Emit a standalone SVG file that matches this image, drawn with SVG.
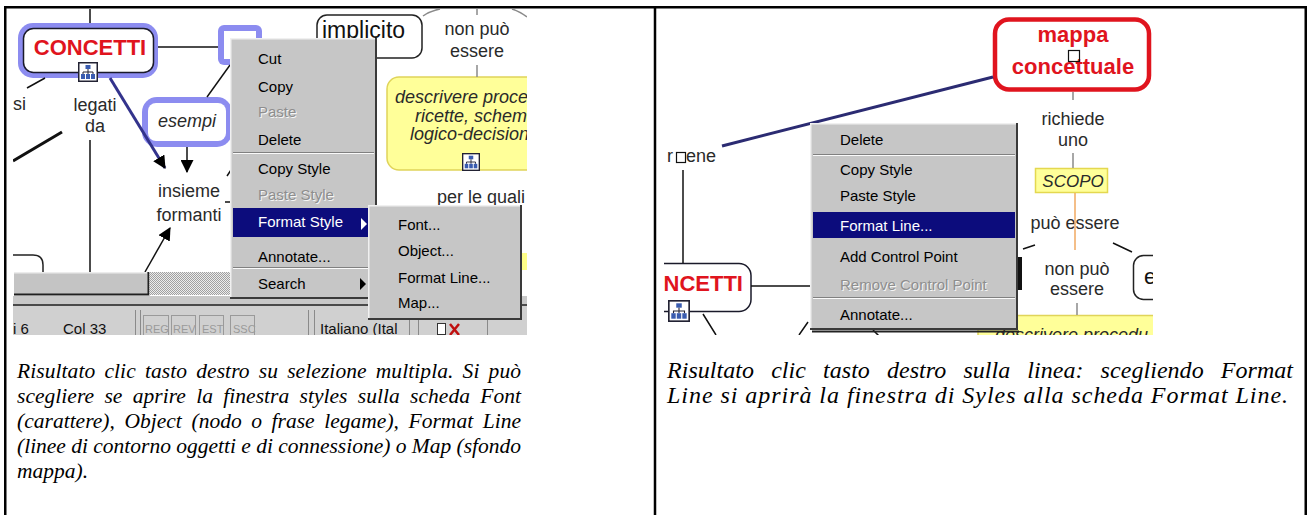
<svg xmlns="http://www.w3.org/2000/svg" width="1310" height="515" viewBox="0 0 1310 515">
<defs>
<style>
text{font-family:"Liberation Sans",Arial,sans-serif}
.ui{font-size:15px;fill:#000}
.uw{font-size:15px;fill:#fff}
.dis{font-size:15px;fill:#8e8e8e}
.dsh{font-size:15px;fill:#f6f6f6}
.lbl{font-size:18px;fill:#2a2a2a}
.it{font-style:italic}
.red{font-size:22px;font-weight:bold;fill:#e0141e}
.cap{font-family:"Liberation Serif","Times New Roman",serif;font-style:italic;font-size:21.5px;fill:#000}
.capr{font-family:"Liberation Serif","Times New Roman",serif;font-style:italic;font-size:24px;fill:#000}
.st{font-size:15px;fill:#111}
.sd{font-size:11px;fill:#9a9a9a}
.menu{fill:#c6c6c6}
.sel{fill:#0c0c7c}
.hl{fill:#8c8cf0}
.box{fill:#fff;stroke:#1a1a2a;stroke-width:1.5}
.yel{fill:#ffff99;stroke:#e0d45a;stroke-width:1.5}
.ln{stroke:#111;stroke-width:1.5;fill:none}
.gl{stroke:#8a8a8a;stroke-width:1.5;fill:none}
.lt{stroke:#f0f0f0;stroke-width:1.5;fill:none}
.dk{stroke:#3a3a3a;stroke-width:2;fill:none}
.s1{stroke:#808080;stroke-width:1}
.s2{stroke:#fafafa;stroke-width:1}
.bd{stroke:#000;stroke-width:2.5;fill:none}
</style>
<marker id="ah" viewBox="0 0 12 12" refX="11" refY="6" markerWidth="13" markerHeight="13" markerUnits="userSpaceOnUse" orient="auto"><path d="M0,0 L12,6 L0,12 z" fill="#000"/></marker>
<symbol id="ico" viewBox="0 0 20 20">
<rect x="0.75" y="0.75" width="18.5" height="18.5" fill="#fff" stroke="#223" stroke-width="1.5"/>
<rect x="7.5" y="3" width="5" height="4" fill="#3a5cb0"/>
<path d="M10,7V12M5,12V10H15V12" stroke="#223" stroke-width="1" fill="none"/>
<rect x="3" y="12" width="4" height="5" fill="#3a5cb0"/>
<rect x="8" y="12" width="4" height="5" fill="#3a5cb0"/>
<rect x="13" y="12" width="4" height="5" fill="#3a5cb0"/>
</symbol>
<pattern id="chk" width="2" height="2" patternUnits="userSpaceOnUse"><rect width="2" height="2" fill="#ececec"/><rect width="1" height="1" fill="#a0a0a0"/><rect x="1" y="1" width="1" height="1" fill="#a0a0a0"/></pattern>
<clipPath id="cl"><rect x="13" y="9" width="514" height="326"/></clipPath>
<clipPath id="cr"><rect x="664" y="9" width="489" height="326"/></clipPath>
</defs>

<rect width="1310" height="515" fill="#fff"/>

<g id="left-shot" clip-path="url(#cl)">
<rect x="13" y="9" width="514" height="326" fill="#fff"/>
<g id="L-concetti">
<rect class="hl" x="18" y="23" width="140" height="55" rx="15"/>
<rect class="box" x="23.5" y="28.5" width="130" height="44" rx="10"/>
<text class="red" x="90" y="55" text-anchor="middle">CONCETTI</text>
<use href="#ico" x="78" y="62" width="20" height="20"/>
</g>
<g id="L-selected">
<rect class="hl" x="218" y="25" width="44" height="40" rx="6"/>
<rect x="224" y="31" width="32" height="28" fill="#fff"/>
</g>
<g id="L-esempi">
<rect class="hl" x="142" y="97" width="90" height="50" rx="15"/>
<rect x="148" y="103" width="78" height="38" rx="8" fill="#fff"/>
<text class="lbl it" x="187" y="127" text-anchor="middle">esempi</text>
</g>
<g id="L-implicito">
<rect x="317" y="15" width="105" height="43" rx="10" fill="#fff" stroke="#222" stroke-width="1.5"/>
<text x="322" y="38" style="font-size:23px;fill:#111">implicito</text>
</g>
<g id="L-procedure">
<rect class="yel" x="387" y="77" width="170" height="93" rx="12"/>
<text class="lbl it" x="395" y="103">descrivere proce</text>
<text class="lbl it" x="415" y="122">ricette, schem</text>
<text class="lbl it" x="410" y="140">logico-decision</text>
<use href="#ico" x="462" y="153" width="18" height="18"/>
</g>
<g id="L-bottom-node">
<path d="M10,255H33Q43,255 43,265V272" fill="none" stroke="#222" stroke-width="1.5"/>
</g>
<g id="L-yellow-edge"><rect x="522" y="253" width="6" height="17" fill="#ffff88"/></g>
<g id="L-labels">
<text class="lbl" x="13" y="110">si</text>
<text class="lbl" x="95" y="111" text-anchor="middle">legati</text>
<text class="lbl" x="95" y="132" text-anchor="middle">da</text>
<text class="lbl" x="189" y="197" text-anchor="middle">insieme</text>
<text class="lbl" x="189" y="221" text-anchor="middle">formanti</text>
<text class="lbl" x="477" y="35" text-anchor="middle">non può</text>
<text class="lbl" x="477" y="57" text-anchor="middle">essere</text>
<text class="lbl" x="437" y="203">per le quali</text>
</g>
<g id="L-connectors">
<path class="ln" d="M90,9V23"/>
<path class="ln" d="M158,47H218"/>
<path class="ln" d="M27,88L45,78"/>
<path class="ln" d="M90,140V272"/>
<path d="M13,161L62,132" stroke="#111" stroke-width="3"/>
<path d="M110,78L165,168" stroke="#33338c" stroke-width="3" marker-end="url(#ah)"/>
<path class="ln" d="M187,147V172" marker-end="url(#ah)"/>
<path class="ln" d="M207,97L230,65"/>
<path class="ln" d="M145,272L170,228" marker-end="url(#ah)"/>
<path class="gl" d="M477,9V15M477,65V77M423,16Q430,11 440,9M512,9Q521,12 527,17"/>
<path class="ln" d="M225,202H231M227,176L231,170"/>
</g>
<g id="L-statusbar">
<rect x="14" y="272" width="134" height="23" fill="#c4c4c4"/>
<path d="M14,272.75H147" stroke="#ececec" stroke-width="1.5"/>
<path d="M14,294.5H148.5V272" stroke="#202020" stroke-width="2" fill="none"/>
<rect x="149.5" y="272" width="83" height="23" fill="url(#chk)"/>
<rect x="13" y="296" width="514" height="8" fill="#c8c8c8"/>
<path d="M13,305H527" stroke="#4a4a4a" stroke-width="2"/>
<rect x="13" y="306" width="514" height="29" fill="#d0d0d0"/>
<path d="M135.5,310V335M140.5,310V335M308.5,310V335M314.5,310V335M409.5,310V335M418.5,310V335M487.5,310V335" stroke="#8a8a8a" stroke-width="1"/>
<g fill="none" stroke="#9a9a9a" stroke-width="1">
<rect x="143.5" y="315.5" width="25" height="22"/>
<rect x="171.5" y="315.5" width="24" height="22"/>
<rect x="199.5" y="315.5" width="24" height="22"/>
<rect x="230.5" y="315.5" width="24" height="22"/>
</g>
<text class="sd" x="145" y="333">REG</text>
<text class="sd" x="173" y="333">REV</text>
<text class="sd" x="202" y="333">EST</text>
<text class="sd" x="233" y="333">SSC</text>
<text class="st" x="13" y="334">i 6</text>
<text class="st" x="63" y="334">Col 33</text>
<text class="st" x="320" y="334">Italiano (Ital</text>
<rect x="437.5" y="323.5" width="8" height="11" fill="#fff" stroke="#333" stroke-width="1"/>
<path d="M450,324L459,335M459,324L450,335" stroke="#c01010" stroke-width="2.5"/>
</g>
<g id="L-menu">
<rect class="menu" x="230" y="38" width="147" height="261"/>
<path class="lt" d="M230.75,298V38.75H376"/>
<path class="dk" d="M376,38V298H230"/>
<text class="ui" x="258" y="64">Cut</text>
<text class="ui" x="258" y="92">Copy</text>
<text class="dsh" x="259" y="118">Paste</text>
<text class="dis" x="258" y="117">Paste</text>
<text class="ui" x="258" y="145">Delete</text>
<path class="s1" d="M233,152.5H374"/><path class="s2" d="M233,153.5H374"/>
<text class="ui" x="258" y="174">Copy Style</text>
<text class="dsh" x="259" y="201">Paste Style</text>
<text class="dis" x="258" y="200">Paste Style</text>
<rect class="sel" x="233" y="208" width="141" height="29"/>
<text class="uw" x="258" y="227">Format Style</text>
<path d="M361,218L367,224L361,230z" fill="#fff"/>
<text class="ui" x="258" y="262">Annotate...</text>
<path class="s1" d="M233,267.5H374"/><path class="s2" d="M233,268.5H374"/>
<text class="ui" x="258" y="289">Search</text>
<path d="M360,278L366,284L360,290z" fill="#000"/>
</g>
<g id="L-submenu">
<rect class="menu" x="368" y="205" width="154" height="115"/>
<path class="lt" d="M368.75,319V205.75H521"/>
<path class="dk" d="M521,205V319H368"/>
<text class="ui" x="398" y="230">Font...</text>
<text class="ui" x="398" y="256">Object...</text>
<text class="ui" x="398" y="283">Format Line...</text>
<text class="ui" x="398" y="308">Map...</text>
</g>
</g>

<g id="right-shot" clip-path="url(#cr)">
<rect x="664" y="9" width="489" height="326" fill="#fff"/>
<g id="R-concetti">
<rect class="box" x="600" y="263.5" width="151" height="48" rx="12"/>
<text class="red" x="743" y="291" text-anchor="end">NCETTI</text>
<use href="#ico" x="668" y="300" width="22" height="22"/>
</g>
<g id="R-mappa">
<rect x="995" y="19.5" width="154" height="70" rx="14" fill="#fff" stroke="#e0141e" stroke-width="4.5"/>
<text class="red" x="1073" y="42" text-anchor="middle">mappa</text>
<text class="red" x="1073" y="74" text-anchor="middle">concettuale</text>
<rect x="1068.5" y="50.5" width="11" height="11" fill="none" stroke="#111" stroke-width="1.2"/>
</g>
<g id="R-scopo">
<rect x="1035.5" y="168.5" width="72" height="24" fill="#ffff99" stroke="#e4d850" stroke-width="1.5"/>
<text class="lbl it" x="1073" y="187" text-anchor="middle" style="font-size:17px">SCOPO</text>
</g>
<g id="R-e-node">
<rect x="1133.5" y="255.5" width="60" height="44" rx="10" fill="#fff" stroke="#222" stroke-width="1.5"/>
<text x="1144" y="284" style="font-size:22px;fill:#111">e</text>
</g>
<g id="R-hidden-node"><rect x="1018" y="257" width="4" height="33" fill="#111"/></g>
<g id="R-procedure">
<rect class="yel" x="978" y="315.5" width="200" height="40" rx="4"/>
<text class="lbl it" x="995" y="341">descrivere procedu</text>
</g>
<g id="R-labels">
<text class="lbl" x="667" y="162">r</text>
<rect x="676.5" y="152.5" width="9" height="10" fill="#fff" stroke="#111" stroke-width="1.2"/>
<text class="lbl" x="686" y="162">ene</text>
<text class="lbl" x="1073" y="125" text-anchor="middle">richiede</text>
<text class="lbl" x="1073" y="146" text-anchor="middle">uno</text>
<text class="lbl" x="1075" y="229" text-anchor="middle">può essere</text>
<text class="lbl" x="1077" y="275" text-anchor="middle">non può</text>
<text class="lbl" x="1077" y="295" text-anchor="middle">essere</text>
</g>
<g id="R-connectors">
<path d="M722,146L993,77" stroke="#2b2b72" stroke-width="3"/>
<path class="ln" d="M683,170V263"/>
<path class="ln" d="M751,286H810"/>
<path class="ln" d="M703,314L716,335M808,322L799,335M873,330L879,336"/>
<path class="gl" d="M1073,92V100M1073,153V168"/>
<path d="M1075,193V250" stroke="#f0a860" stroke-width="1.5"/>
<path class="ln" d="M1023,249L1035,245M1113,243L1132,252"/>
<path class="gl" d="M1077,303V315"/>
</g>
<g id="R-menu">
<rect class="menu" x="810" y="123" width="208" height="207"/>
<path class="lt" d="M810.75,329V123.75H1017"/>
<path class="dk" d="M1017,123V329H810"/>
<path d="M812,331.5H1019" stroke="#222" stroke-width="2"/>
<text class="ui" x="840" y="145">Delete</text>
<path class="s1" d="M813,154.5H1015"/><path class="s2" d="M813,155.5H1015"/>
<text class="ui" x="840" y="175">Copy Style</text>
<text class="ui" x="840" y="201">Paste Style</text>
<rect class="sel" x="813" y="212" width="202" height="26"/>
<text class="uw" x="840" y="231">Format Line...</text>
<text class="ui" x="840" y="262">Add Control Point</text>
<text class="dsh" x="841" y="291">Remove Control Point</text>
<text class="dis" x="840" y="290">Remove Control Point</text>
<path class="s1" d="M813,297.5H1015"/><path class="s2" d="M813,298.5H1015"/>
<text class="ui" x="840" y="320">Annotate...</text>
</g>
</g>

<g id="captions">
<text class="cap" x="17" y="378" word-spacing="3.7" textLength="504" lengthAdjust="spacing">Risultato clic tasto destro su selezione multipla. Si può</text>
<text class="cap" x="17" y="403" word-spacing="4.9" textLength="504" lengthAdjust="spacing">scegliere se aprire la finestra styles sulla scheda Font</text>
<text class="cap" x="17" y="428" word-spacing="4.2" textLength="504" lengthAdjust="spacing">(carattere), Object (nodo o frase legame), Format Line</text>
<text class="cap" x="17" y="453" textLength="504" lengthAdjust="spacing">(linee di contorno oggetti e di connessione) o Map (sfondo</text>
<text class="cap" x="17" y="478">mappa).</text>
<text class="capr" x="667" y="378" word-spacing="11" textLength="626" lengthAdjust="spacing">Risultato clic tasto destro sulla linea: scegliendo Format</text>
<text class="capr" x="667" y="403" textLength="621" lengthAdjust="spacing">Line si aprirà la finestra di Syles alla scheda Format Line.</text>
</g>

<g id="table">
<path class="bd" d="M4,7.25H1307M5.25,6V515M655,6V515M1305.75,6V515"/>
</g>
</svg>
